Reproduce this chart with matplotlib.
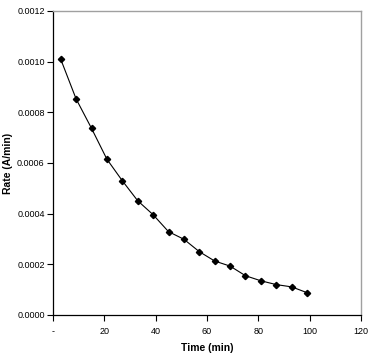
import matplotlib.pyplot as plt
from matplotlib.ticker import FuncFormatter

plt.rcParams['font.family'] = ['Liberation Sans', 'DejaVu Sans']

# data
time_min = [3, 9, 15, 21, 27, 33, 39, 45, 51, 57, 63, 69, 75, 81, 87, 93, 99]
rate = [0.00101, 0.000853, 0.000737, 0.000615, 0.00053, 0.000451, 0.000396,
        0.000329, 0.000299, 0.00025, 0.000213, 0.000193, 0.000155, 0.000135,
        0.00012, 0.000111, 0.000088]
x_ticks = [0, 20, 40, 60, 80, 100, 120]
y_ticks = [0.0, 0.0002, 0.0004, 0.0006, 0.0008, 0.0010, 0.0012]

fig = plt.figure(figsize=(3.73, 3.57), dpi=100)
ax = fig.add_axes([53 / 373, 1 - 315 / 357, 308 / 373, 304 / 357])

ax.plot(time_min, rate, color='black', linewidth=0.8, marker='D',
        markersize=3.2, markerfacecolor='black', markeredgecolor='black')

ax.set_xlim(0, 120)
ax.set_ylim(0, 0.0012)
ax.set_xticks(x_ticks)
ax.set_yticks(y_ticks)
ax.xaxis.set_major_formatter(FuncFormatter(lambda v, p: '-' if v == 0 else '%d' % v))
ax.yaxis.set_major_formatter(FuncFormatter(lambda v, p: '%.4f' % v))
ax.tick_params(direction='out', length=4, width=0.8, labelsize=6.5, pad=2)
ax.tick_params(axis='x', pad=5)

for s in ['left', 'bottom']:
    ax.spines[s].set_color('black')
    ax.spines[s].set_linewidth(0.9)
for s in ['top', 'right']:
    ax.spines[s].set_color('#a0a0a0')
    ax.spines[s].set_linewidth(1.0)

ax.set_xlabel('Time (min)', fontsize=7.5, fontweight='bold', labelpad=5)
ax.set_ylabel('Rate (A/min)', fontsize=7.5, fontweight='bold')
ax.yaxis.set_label_coords(-0.13, 0.5)

fig.savefig('out.png', dpi=100)
